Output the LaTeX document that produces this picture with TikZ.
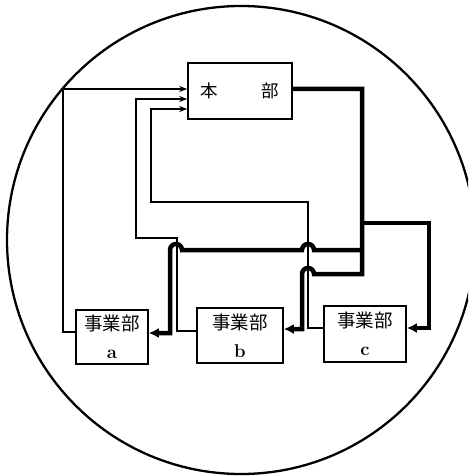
\documentclass[tikz,border=0pt]{standalone}
\usepackage{fontspec}
\newfontfamily\jp{Noto Sans CJK JP}
\usepackage{tikz}
\usetikzlibrary{arrows.meta,calc}

\begin{document}
\begin{tikzpicture}[
  x=1pt, y=-1pt,
  box/.style={draw, line width=1.6pt, inner sep=0pt, align=center, font=\fontsize{18.5}{28}\selectfont},
  info/.style={line width=1.3pt, -{Stealth[length=8pt,width=6pt]}},
  order/.style={line width=4.5pt, -{Latex[length=10pt,width=10pt]}}
]
\useasboundingbox (0,0) rectangle (468,476);
\begin{scope}
  \clip (0,0) rectangle (468,476);
  \draw[line width=2.3pt] (241,240) circle[radius=234];
\end{scope}

\node[box, minimum width=104pt, minimum height=56pt, font=\fontsize{17.5}{20}\selectfont] (honbu) at (240,91) {\jp 本\hspace{2.5em}部};
\node[box, minimum width=72pt, minimum height=54pt] (jigyoA) at (112,337) {\jp 事業部\\\textbf{a}};
\node[box, minimum width=86pt, minimum height=55pt] (jigyoB) at (240,335.5) {\jp 事業部\\\textbf{b}};
\node[box, minimum width=82pt, minimum height=56pt] (jigyoC) at (365,334) {\jp 事業部\\\textbf{c}};

% reports up to the head office
\draw[info] (jigyoA.west |- 0,332) -| (63,89) -- (honbu.west |- 0,89);
\draw[info] (jigyoB.west |- 0,331) -| (177,238) -| (136,99) -- (honbu.west |- 0,99);
\draw[info] (jigyoC.west |- 0,328) -| (308,202) -| (151,109) -- (honbu.west |- 0,109);

% orders down to the divisions
\draw[order] (honbu.east |- 0,89) -| (362,274) -- (314,274)
  arc[start angle=0, end angle=-180, radius=6] |- (jigyoB.east |- 0,329);
\draw[order] (362,250) -- (314,250) arc[start angle=0, end angle=-180, radius=6]
  -- (182,250) arc[start angle=0, end angle=-180, radius=6] |- (jigyoA.east |- 0,333);
\draw[order] (362,223) -| (429,328) -- (jigyoC.east |- 0,328);
\end{tikzpicture}
\end{document}
